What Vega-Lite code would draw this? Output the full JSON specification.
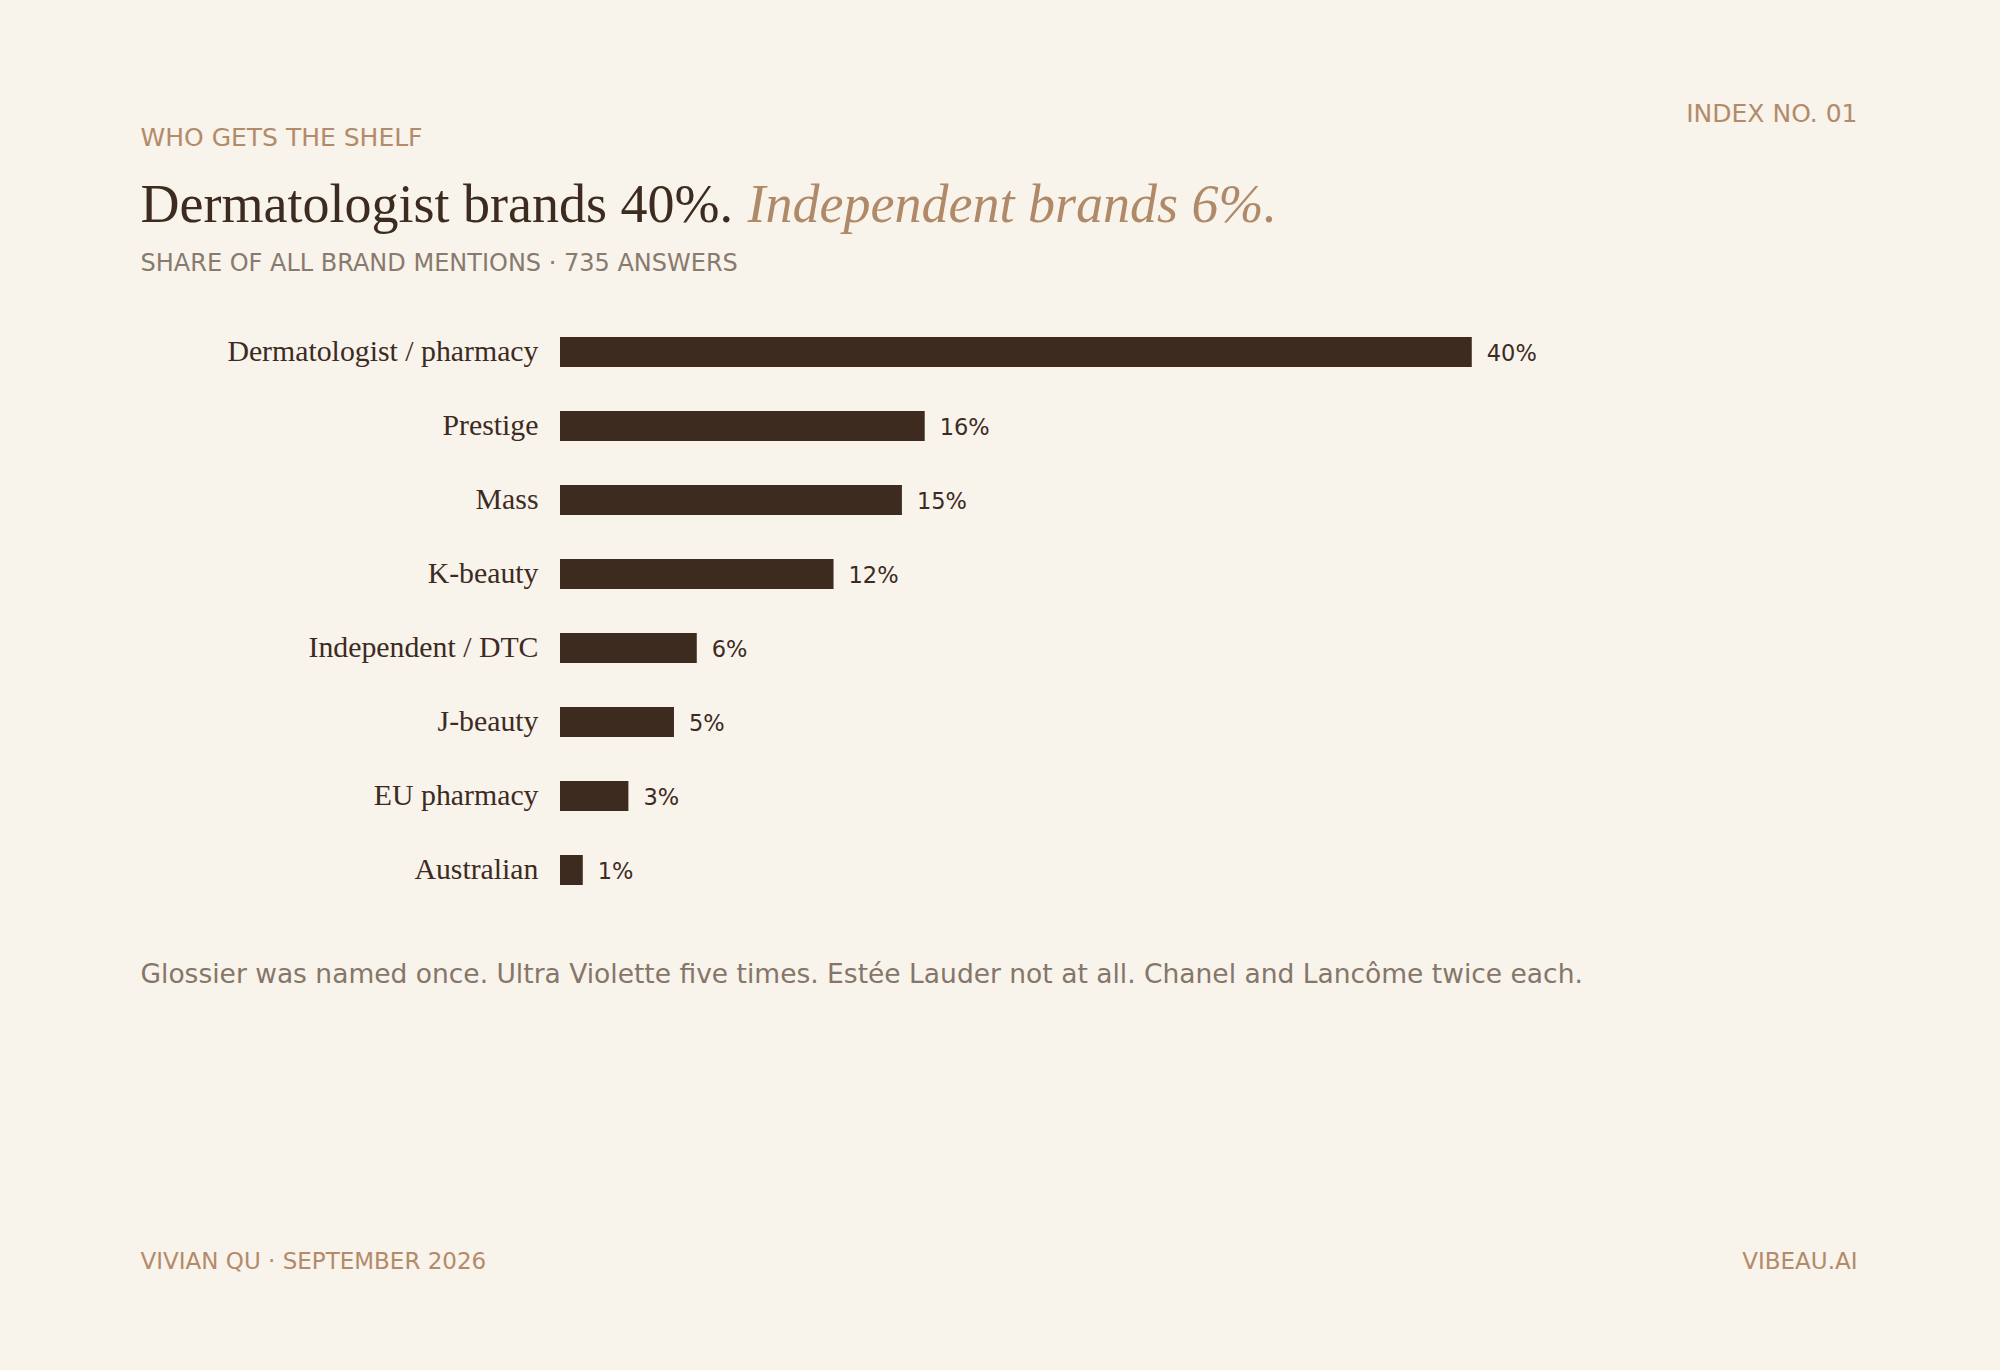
{
  "$schema": "https://vega.github.io/schema/vega-lite/v6.json",
  "autosize": {"type": "none"},
  "width": 1297,
  "height": 592,
  "padding": {"left": 560, "top": 315, "right": 143, "bottom": 463},
  "background": "#f8f3eb",
  "config": {
    "view": {"stroke": null},
    "axis": {"grid": false, "domain": false, "ticks": false, "titleFontWeight": "normal", "titlePadding": 0, "titleLimit": 0, "labelLimit": 0}
  },
  "data": {
    "values": [
      {"category": "Dermatologist / pharmacy", "share": 0.40},
      {"category": "Prestige", "share": 0.16},
      {"category": "Mass", "share": 0.15},
      {"category": "K-beauty", "share": 0.12},
      {"category": "Independent / DTC", "share": 0.06},
      {"category": "J-beauty", "share": 0.05},
      {"category": "EU pharmacy", "share": 0.03},
      {"category": "Australian", "share": 0.01}
    ]
  },
  "layer": [
    {
      "encoding": {
        "y": {
          "field": "category", "type": "nominal", "sort": null,
          "scale": {"type": "band", "paddingInner": 0.595, "paddingOuter": 0.2975},
          "axis": {
            "orient": "left",
            "labelFont": "Liberation Serif", "labelFontSize": 29.8, "labelColor": "#3d2b1f", "labelPadding": 22, "labelLimit": 600,
            "title": "SHARE OF ALL BRAND MENTIONS · 735 ANSWERS",
            "titleFont": "DejaVu Sans", "titleFontSize": 24, "titleColor": "#897a6e",
            "titleAngle": 0, "titleAlign": "left", "titleBaseline": "alphabetic",
            "titleX": -420, "titleY": -44.5
          }
        },
        "x": {
          "field": "share", "type": "quantitative",
          "scale": {"domain": [0, 0.569], "nice": false, "zero": true},
          "axis": {
            "orient": "bottom", "labels": false,
            "title": "Glossier was named once. Ultra Violette five times. Estée Lauder not at all. Chanel and Lancôme twice each.",
            "titleFont": "DejaVu Sans", "titleFontSize": 26.5, "titleColor": "#857669",
            "titleAngle": 0, "titleAlign": "left", "titleBaseline": "alphabetic",
            "titleX": -420, "titleY": 75
          }
        }
      },
      "layer": [
        {"mark": {"type": "bar", "color": "#3d2b1f"}},
        {
          "mark": {"type": "text", "align": "left", "baseline": "middle", "dx": 15, "dy": 2, "font": "DejaVu Sans", "fontSize": 22.5, "color": "#3d2b1f"},
          "encoding": {"text": {"field": "share", "type": "quantitative", "format": ".0%"}}
        }
      ]
    },
    {
      "mark": {"type": "point", "opacity": 0},
      "encoding": {
        "x": {
          "field": "share", "type": "quantitative",
          "axis": {
            "orient": "top", "labels": false,
            "title": "WHO GETS THE SHELF",
            "titleFont": "DejaVu Sans", "titleFontSize": 25, "titleColor": "#b38b69",
            "titleAngle": 0, "titleAlign": "left", "titleBaseline": "alphabetic",
            "titleX": -420, "titleY": -170
          }
        },
        "y": {
          "field": "category", "type": "nominal", "sort": null,
          "axis": {
            "orient": "right", "labels": false,
            "title": "INDEX NO. 01",
            "titleFont": "DejaVu Sans", "titleFontSize": 25, "titleColor": "#b38b69",
            "titleAngle": 0, "titleAlign": "right", "titleBaseline": "alphabetic",
            "titleX": 0, "titleY": -193.5
          }
        }
      }
    },
    {
      "mark": {"type": "point", "opacity": 0},
      "encoding": {
        "x": {
          "field": "share", "type": "quantitative",
          "axis": {
            "orient": "top", "labels": false,
            "title": "Dermatologist brands 40%.",
            "titleFont": "Liberation Serif", "titleFontSize": 54, "titleColor": "#3d2b1f",
            "titleAngle": 0, "titleAlign": "left", "titleBaseline": "alphabetic",
            "titleX": -420, "titleY": -93.5
          }
        },
        "y": {
          "field": "category", "type": "nominal", "sort": null,
          "axis": {
            "orient": "left", "labels": false,
            "title": "Independent brands 6%.",
            "titleFont": "Liberation Serif", "titleFontSize": 54, "titleFontStyle": "italic", "titleColor": "#b08a68",
            "titleAngle": 0, "titleAlign": "left", "titleBaseline": "alphabetic",
            "titleX": 187, "titleY": -93.5
          }
        }
      }
    },
    {
      "mark": {"type": "point", "opacity": 0},
      "encoding": {
        "x": {
          "field": "share", "type": "quantitative",
          "axis": {
            "orient": "bottom", "labels": false,
            "title": "VIVIAN QU · SEPTEMBER 2026",
            "titleFont": "DejaVu Sans", "titleFontSize": 23, "titleColor": "#b38b69",
            "titleAngle": 0, "titleAlign": "left", "titleBaseline": "alphabetic",
            "titleX": -420, "titleY": 361
          }
        },
        "y": {
          "field": "category", "type": "nominal", "sort": null,
          "axis": {
            "orient": "right", "labels": false,
            "title": "VIBEAU.AI",
            "titleFont": "DejaVu Sans", "titleFontSize": 23, "titleColor": "#b38b69",
            "titleAngle": 0, "titleAlign": "right", "titleBaseline": "alphabetic",
            "titleX": 0, "titleY": 953
          }
        }
      }
    }
  ],
  "resolve": {
    "scale": {"x": "independent", "y": "independent"},
    "axis": {"x": "independent", "y": "independent"}
  }
}
